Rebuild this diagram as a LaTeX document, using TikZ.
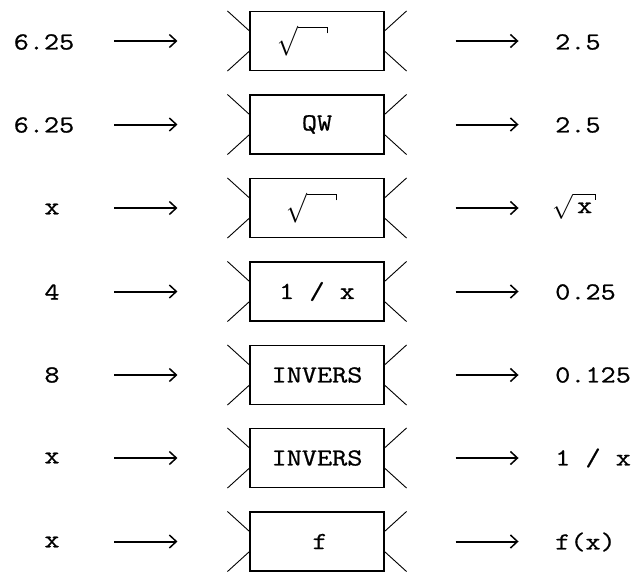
\documentclass[tikz,border=0pt]{standalone}
\usepackage{amsmath}
\usepackage{graphicx}
\usepackage{fontspec}
\newfontfamily\typefont{Latin Modern Mono}[FakeStretch=1.2,FakeBold=0.8]
\usepackage{tikz}
\usetikzlibrary{arrows.meta}

% radical sign with a small hook at the end of its bar
\newsavebox{\radbox}
\newcommand{\hookroot}[1]{%
    \sbox{\radbox}{$\sqrt{#1}$}\usebox{\radbox}%
    \kern-0.9pt\rule[\dimexpr\ht\radbox-6.5pt\relax]{0.9pt}{5.5pt}}
% the empty radical drawn inside a box
\newcommand{\emptyroot}{\scalebox{1}[1.2]{\hookroot{\rule[-5pt]{0pt}{21pt}\hspace{30pt}}}}

% the four slanted strokes at the corners of a box
\newcommand{\whiskers}[1]{%
    \draw[whisker] ([xshift=-22pt]#1.north west) -- ([yshift=-20pt]#1.north west);
    \draw[whisker] ([xshift=-22pt]#1.south west) -- ([yshift=20pt]#1.south west);
    \draw[whisker] ([xshift=22pt]#1.north east) -- ([yshift=-20pt]#1.north east);
    \draw[whisker] ([xshift=22pt]#1.south east) -- ([yshift=20pt]#1.south east);}

\begin{document}
\begin{tikzpicture}[
        x=1pt,y=-1pt,
        every node/.style={font=\typefont\fontsize{24.5}{28}\selectfont,inner sep=0pt},
        fbox/.style={draw,line width=1.1pt,minimum width=134pt,minimum height=59pt},
        whisker/.style={line width=0.9pt},
        flow/.style={line width=2pt,-{Straight Barb[length=7pt,width=13pt,line width=1.5pt]}}
    ]
        \useasboundingbox (0,0) rectangle (642,571);

        \node (in1) at (44,42) {6.25};
        \node (in2) at (44,125) {6.25};
        \node (in3) at (52,209) {x};
        \node (in4) at (52,292) {4};
        \node (in5) at (52,375) {8};
        \node (in6) at (52,458) {x};
        \node (in7) at (52,542) {x};

        \node[fbox] (f1) at (317,41) {\emptyroot\kern29pt};
        \node[fbox] (f2) at (317,124.5) {QW};
        \node[fbox] (f3) at (317,208) {\emptyroot\kern11pt};
        \node[fbox] (f4) at (317,291.5) {1 / x};
        \node[fbox] (f5) at (317,375) {INVERS};
        \node[fbox] (f6) at (317,458) {INVERS};
        \node[fbox] (f7) at (317,541.5) {\hspace{6pt}f};

        \node[anchor=west] (out1) at (555,42) {2.5};
        \node[anchor=west] (out2) at (555,125) {2.5};
        \node[anchor=west] (out3) at (552,206) {\hookroot{\rule[-3pt]{0pt}{17pt}\,\mbox{x}\,}};
        \node[anchor=west] (out4) at (555,292) {0.25};
        \node[anchor=west] (out5) at (555,375) {0.125};
        \node[anchor=west] (out6) at (555,458) {1 / x};
        \node[anchor=west] (out7) at (555,542) {f(x)};

        \whiskers{f1}
        \whiskers{f2}
        \whiskers{f3}
        \whiskers{f4}
        \whiskers{f5}
        \whiskers{f6}
        \whiskers{f7}

        \draw[flow] ([xshift=-135pt]f1.west) -- ([xshift=-72pt]f1.west);
        \draw[flow] ([xshift=-135pt]f2.west) -- ([xshift=-72pt]f2.west);
        \draw[flow] ([xshift=-135pt]f3.west) -- ([xshift=-72pt]f3.west);
        \draw[flow] ([xshift=-135pt]f4.west) -- ([xshift=-72pt]f4.west);
        \draw[flow] ([xshift=-135pt]f5.west) -- ([xshift=-72pt]f5.west);
        \draw[flow] ([xshift=-135pt]f6.west) -- ([xshift=-72pt]f6.west);
        \draw[flow] ([xshift=-135pt]f7.west) -- ([xshift=-72pt]f7.west);

        \draw[flow] ([xshift=71pt]f1.east) -- ([xshift=134pt]f1.east);
        \draw[flow] ([xshift=71pt]f2.east) -- ([xshift=134pt]f2.east);
        \draw[flow] ([xshift=71pt]f3.east) -- ([xshift=134pt]f3.east);
        \draw[flow] ([xshift=71pt]f4.east) -- ([xshift=134pt]f4.east);
        \draw[flow] ([xshift=71pt]f5.east) -- ([xshift=134pt]f5.east);
        \draw[flow] ([xshift=71pt]f6.east) -- ([xshift=134pt]f6.east);
        \draw[flow] ([xshift=71pt]f7.east) -- ([xshift=134pt]f7.east);
    \end{tikzpicture}
\end{document}
